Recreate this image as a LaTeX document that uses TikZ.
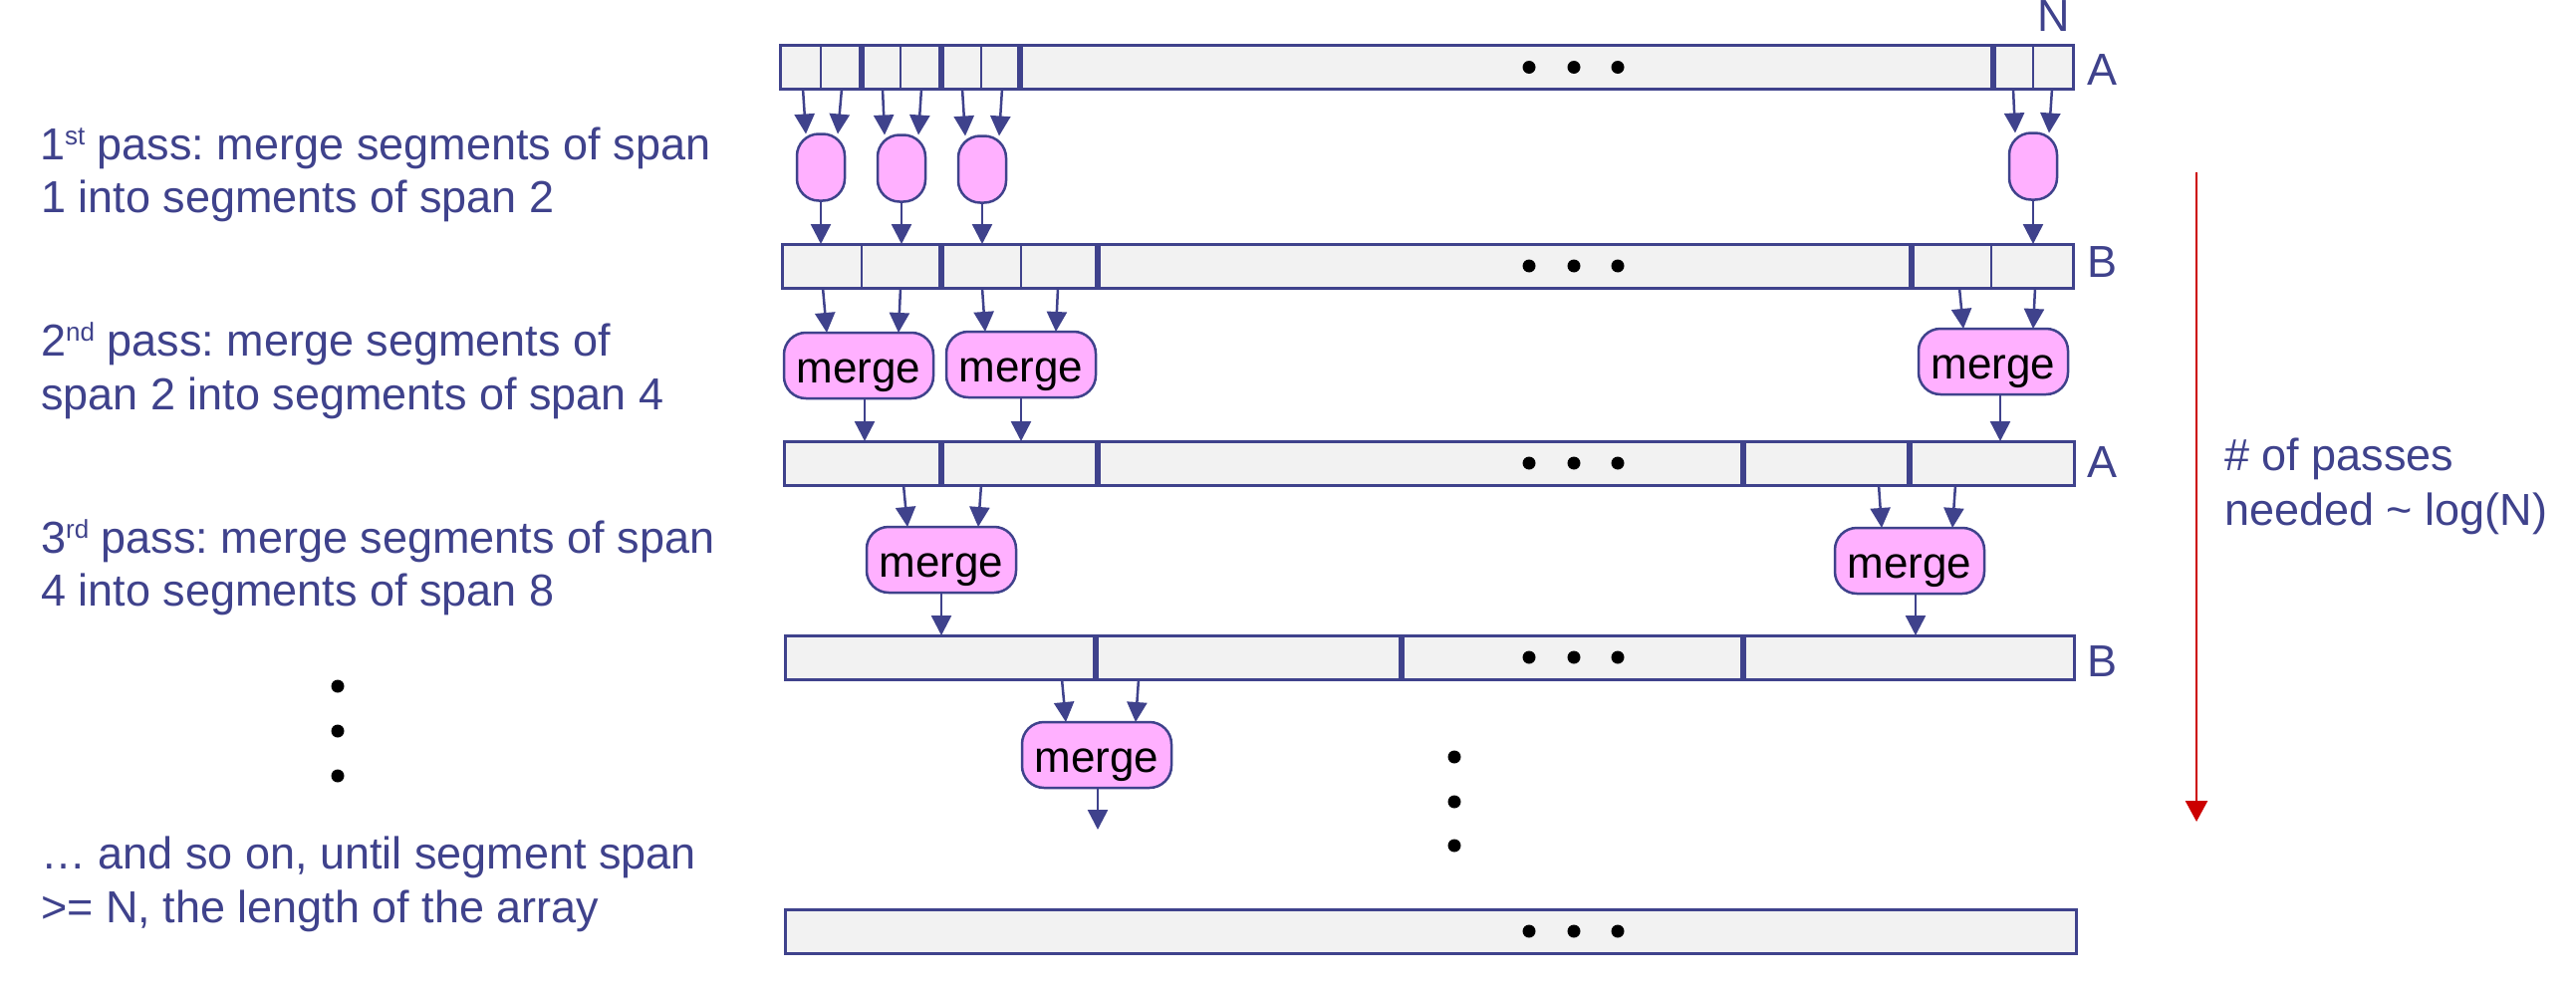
\documentclass[tikz,border=0pt]{standalone}
\usepackage{fontspec}
\setmainfont{Liberation Sans}
\usetikzlibrary{arrows.meta,calc}
\definecolor{nblue}{RGB}{63,66,140}
\definecolor{rowfill}{RGB}{242,242,242}
\definecolor{mpink}{RGB}{255,176,255}
\definecolor{dred}{RGB}{204,0,0}
\newcommand{\sups}[1]{\raisebox{15pt}{\fontsize{26}{26}\selectfont #1}}
\frenchspacing
\begin{document}
\begin{tikzpicture}[x=1pt,y=-1pt,
  rowbox/.style={draw=nblue,line width=3pt,fill=rowfill,inner sep=0pt,outer sep=0pt},
  thindiv/.style={draw=nblue,line width=2pt},
  thickdiv/.style={draw=nblue,line width=6.5pt},
  pill/.style={draw=nblue,line width=2.5pt,fill=mpink,minimum width=48pt,minimum height=67pt,rounded corners=22pt,inner sep=0pt,outer sep=0pt},
  mergebox/.style={draw=nblue,line width=2.5pt,fill=mpink,minimum width=150pt,minimum height=66pt,rounded corners=22pt,inner sep=0pt,outer sep=0pt,text=black,font=\fontsize{44}{44}\selectfont,text height=44pt,text depth=10pt},
  arr/.style={draw=nblue,line width=2.5pt,-{Triangle[length=20pt,width=20pt]},shorten <=2pt},
  redarr/.style={draw=dred,line width=2.7pt,-{Triangle[length=21pt,width=22pt]}},
  txt/.style={text=nblue,font=\fontsize{45}{53}\selectfont\frenchspacing,anchor=base west,inner sep=0pt},
  lbl/.style={text=nblue,font=\fontsize{45}{53}\selectfont,anchor=base,inner sep=0pt},
  dot/.style={fill=black}
]
\useasboundingbox (0,0) rectangle (2586,990);
\fill[white] (0,0) rectangle (2586,990);

% ---------- arrays ----------
\node[rowbox,minimum width=1298pt,minimum height=43pt] (A1) at (1432,67.5) {};
\node[rowbox,minimum width=1296pt,minimum height=44pt] (B1) at (1433,267) {};
\node[rowbox,minimum width=1295pt,minimum height=44pt] (A2) at (1434.5,465) {};
\node[rowbox,minimum width=1294pt,minimum height=44pt] (B2) at (1435,660) {};
\node[rowbox,minimum width=1296pt,minimum height=44pt] (F) at (1436,935) {};

% dividers
\foreach \x in {824,904,985,2041} \draw[thindiv] (\x,0 |- A1.north) -- (\x,0 |- A1.south);
\foreach \x in {865,945,1024,2001} \draw[thickdiv] (\x,0 |- A1.north) -- (\x,0 |- A1.south);
\foreach \x in {865,1025,1999} \draw[thindiv] (\x,0 |- B1.north) -- (\x,0 |- B1.south);
\foreach \x in {945,1102,1919} \draw[thickdiv] (\x,0 |- B1.north) -- (\x,0 |- B1.south);
\foreach \x in {945,1102,1750,1917} \draw[thickdiv] (\x,0 |- A2.north) -- (\x,0 |- A2.south);
\foreach \x in {1100,1407,1750} \draw[thickdiv] (\x,0 |- B2.north) -- (\x,0 |- B2.south);

% ellipsis dots in arrays
\foreach \r in {A1,B1,A2,B2,F}
  \foreach \x in {1535,1580,1624} \fill[dot] (\x,0 |- \r.center) circle (6.5pt);

% row labels
\node[lbl] (lN) at (2062,32) {N};
\node[lbl] (lA1) at (2110,85) {A};
\node[lbl] (lB1) at (2110,278) {B};
\node[lbl] (lA2) at (2110,479) {A};
\node[lbl] (lB2) at (2110,679) {B};

% ---------- pass 1 ----------
\node[pill] (p1) at (824,168) {};
\node[pill] (p2) at (905,169) {};
\node[pill] (p3) at (986,170) {};
\node[pill] (p4) at (2041,167) {};
\draw[arr] (806,0 |- A1.south) -- (809,0 |- p1.north);
\draw[arr] (845,0 |- A1.south) -- (841,0 |- p1.north);
\draw[arr] (886,0 |- A1.south) -- (888,0 |- p2.north);
\draw[arr] (925,0 |- A1.south) -- (922,0 |- p2.north);
\draw[arr] (966,0 |- A1.south) -- (969,0 |- p3.north);
\draw[arr] (1006,0 |- A1.south) -- (1003,0 |- p3.north);
\draw[arr] (2021,0 |- A1.south) -- (2023,0 |- p4.north);
\draw[arr] (2060,0 |- A1.south) -- (2057,0 |- p4.north);
\draw[arr,shorten <=0pt] (p1.south) -- (824,0 |- B1.north);
\draw[arr,shorten <=0pt] (p2.south) -- (905,0 |- B1.north);
\draw[arr,shorten <=0pt] (p3.south) -- (986,0 |- B1.north);
\draw[arr,shorten <=0pt] (p4.south) -- (2041,0 |- B1.north);

% ---------- pass 2 ----------
\node[mergebox] (m1) at (862,367) {merge};
\node[mergebox] (m2) at (1025,366) {merge};
\node[mergebox] (m3) at (2001,363) {merge};
\draw[arr] (826,0 |- B1.south) -- (830,0 |- m1.north);
\draw[arr] (904,0 |- B1.south) -- (902,0 |- m1.north);
\draw[arr] (986,0 |- B1.south) -- (989,0 |- m2.north);
\draw[arr] (1062,0 |- B1.south) -- (1060,0 |- m2.north);
\draw[arr] (1967,0 |- B1.south) -- (1971,0 |- m3.north);
\draw[arr] (2043,0 |- B1.south) -- (2041,0 |- m3.north);
\draw[arr,shorten <=0pt] (868,0 |- m1.south) -- (868,0 |- A2.north);
\draw[arr,shorten <=0pt] (m2.south) -- (1025,0 |- A2.north);
\draw[arr,shorten <=0pt] (2008,0 |- m3.south) -- (2008,0 |- A2.north);

% ---------- pass 3 ----------
\node[mergebox] (n1) at (945,562) {merge};
\node[mergebox] (n2) at (1917,563) {merge};
\draw[arr] (907,0 |- A2.south) -- (911,0 |- n1.north);
\draw[arr] (985,0 |- A2.south) -- (982,0 |- n1.north);
\draw[arr] (1886,0 |- A2.south) -- (1889,0 |- n2.north);
\draw[arr] (1963,0 |- A2.south) -- (1960,0 |- n2.north);
\draw[arr,shorten <=0pt] (n1.south) -- (945,0 |- B2.north);
\draw[arr,shorten <=0pt] (1923,0 |- n2.south) -- (1923,0 |- B2.north);

% ---------- pass 4 ----------
\node[mergebox] (q1) at (1101,758) {merge};
\coordinate (qend) at (1102,833);
\draw[arr] (1066,0 |- B2.south) -- (1070,0 |- q1.north);
\draw[arr] (1143,0 |- B2.south) -- (1140,0 |- q1.north);
\draw[arr,shorten <=0pt] (1102,0 |- q1.south) -- (qend);

% vertical dots
\foreach \y in {760,805,849} \fill[dot] (1460,\y) circle (6.5pt);
\foreach \y in {689,734,779} \fill[dot] (339,\y) circle (6.5pt);

% ---------- red arrow ----------
\coordinate (rs) at (2205,173);
\coordinate (re) at (2205,825);
\draw[redarr] (rs) -- (re);
\node[txt] (r1) at (2233,472) {\# of passes};
\node[txt] (r2) at (2233,527) {needed \textasciitilde{} log(N)};

% ---------- left texts ----------
\node[txt] (t1a) at (40,160) {1\sups{st} pass: merge segments of span};
\node[txt] (t1b) at (41,213) {1 into segments of span 2};
\node[txt] (t2a) at (41,357) {2\sups{nd} pass: merge segments of};
\node[txt] (t2b) at (41,411) {span 2 into segments of span 4};
\node[txt] (t3a) at (41,555) {3\sups{rd} pass: merge segments of span};
\node[txt] (t3b) at (41,608) {4 into segments of span 8};
\node[txt] (t4a) at (41,872) {… and so on, until segment span};
\node[txt] (t4b) at (41,926) {>= N, the length of the array};
\end{tikzpicture}
\end{document}
